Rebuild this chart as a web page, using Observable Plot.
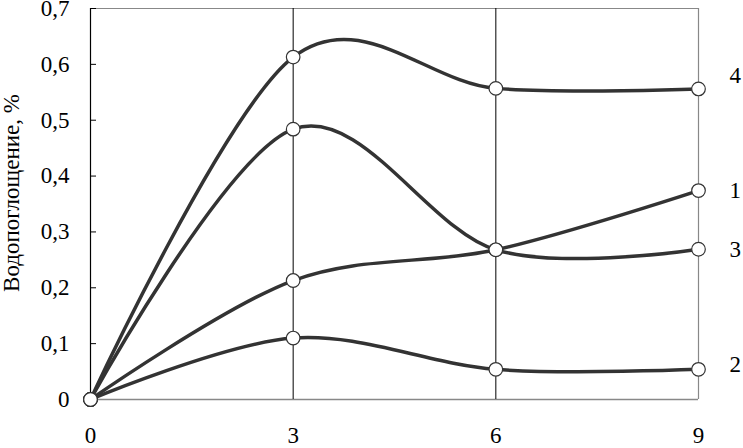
<!DOCTYPE html>
<html>
<head>
<meta charset="utf-8">
<script src="https://cdn.jsdelivr.net/npm/d3@7"></script>
<script src="https://cdn.jsdelivr.net/npm/@observablehq/plot@0.6"></script>
<style>
  html, body { margin: 0; padding: 0; background: #fff; }
  #chart svg { display: block; }
</style>
</head>
<body>
<div id="chart"></div>
<script>
// Data
const days = [0, 3, 6, 9];
const seriesNames = ["1", "2", "3", "4"];
const s1 = [0, 0.213, 0.268, 0.374];
const s2 = [0, 0.110, 0.054, 0.054];
const s3 = [0, 0.484, 0.268, 0.269];
const s4 = [0, 0.613, 0.557, 0.556];
const xTicks = [0, 3, 6, 9];
const yTicks = [0, 0.1, 0.2, 0.3, 0.4, 0.5, 0.6, 0.7];
const gridX = [3, 6];
const yLabel = "Водопоглощение, %";

const seriesValues = [s1, s2, s3, s4];
const rows = [];
seriesNames.forEach((name, i) => {
  days.forEach((d, j) => rows.push({series: name, day: d, value: seriesValues[i][j]}));
});
const endLabels = seriesNames.map((name, i) => ({series: name, day: days[days.length - 1], value: seriesValues[i][days.length - 1]}));

const labelShift = {"4": -13, "2": -5};
const font = "Liberation Serif, Times New Roman, serif";
const ink = "#333";
const fs = 23;

const fmt = d => d === 0 ? "0" : d.toFixed(1).replace(".", ",");

const labelMarks = endLabels.map(l => Plot.text([l], {
  x: "day", y: "value", text: "series",
  dx: 31, dy: labelShift[l.series] || 0,
  textAnchor: "start", fontSize: fs, fill: "#000"
}));

const chart = Plot.plot({
  width: 743,
  height: 448,
  marginLeft: 90,
  marginRight: 45,
  marginTop: 8,
  marginBottom: 49,
  style: {fontFamily: font, background: "#fff", color: "#000"},
  x: {domain: [0, 9], ticks: xTicks},
  y: {domain: [0, 0.7], ticks: yTicks},
  marks: [
    // frame
    Plot.ruleY([0.7], {stroke: "#888", strokeWidth: 1.2}),
    Plot.ruleY([0], {stroke: "#888", strokeWidth: 1.5}),
    Plot.ruleX([9], {stroke: "#888", strokeWidth: 1.2}),
    Plot.ruleX(gridX, {stroke: "#000", strokeWidth: 1}),
    Plot.ruleX([0], {stroke: "#000", strokeWidth: 1.2}),
    // axes
    Plot.axisY(yTicks, {tickSize: -6, tickFormat: () => "", stroke: "#000", label: null}),
    Plot.axisY(yTicks, {tickSize: 0, tickPadding: 21, tickFormat: fmt, fontSize: fs, fill: "#000", label: null}),
    Plot.axisX(xTicks, {tickSize: 0, tickPadding: 27, fontSize: fs, fill: "#000", label: null}),
    Plot.text([yLabel], {frameAnchor: "left", textAnchor: "middle", lineAnchor: "middle", dx: -79, dy: -11, rotate: -90, fontSize: fs, fill: "#000", text: d => d}),
    // series
    Plot.line(rows, {x: "day", y: "value", z: "series", curve: "cardinal", stroke: ink, strokeWidth: 3.5}),
    Plot.dot(rows, {x: "day", y: "value", r: 6.8, fill: "#fff", stroke: ink, strokeWidth: 1.2}),
    ...labelMarks
  ]
});

document.getElementById("chart").append(chart);
</script>
</body>
</html>
